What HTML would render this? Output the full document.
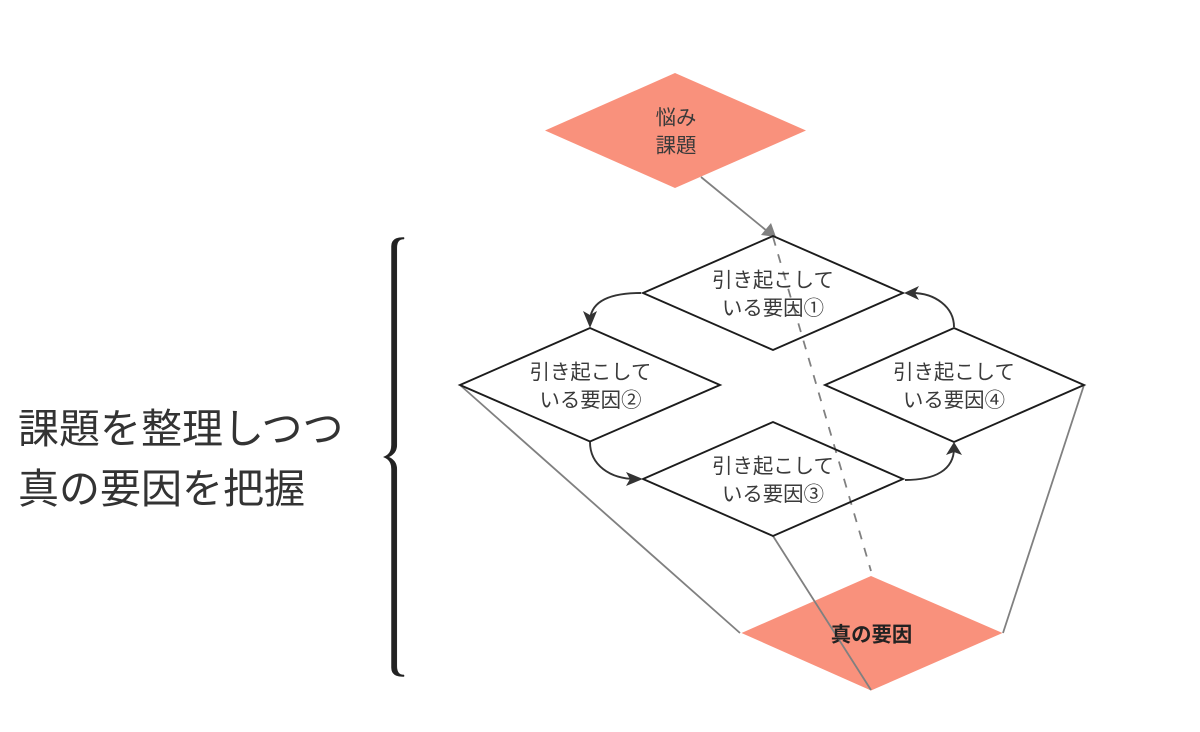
<!DOCTYPE html>
<html lang="ja">
<head>
<meta charset="utf-8">
<style>
html,body{margin:0;padding:0;background:#fff;}
svg{display:block;}
text{font-family:"Liberation Sans","Noto Sans CJK JP",sans-serif;fill:#3a3a3a;text-anchor:middle;font-size:20.4px;}
.big{font-size:41px;text-anchor:start;fill:#333;}
</style>
</head>
<body>
<svg width="1200" height="732" viewBox="0 0 1200 732" xmlns="http://www.w3.org/2000/svg">
<rect width="1200" height="732" fill="#fff"/>
<polygon points="545,130.5 675,73 806,130.5 675,188" fill="#f9917c"/>
<polygon points="741.5,633 871,576 1002.5,633 871,690.5" fill="#f9917c"/>

<g fill="none" stroke="#808080" stroke-width="1.8">
<line x1="701" y1="177" x2="770" y2="233.5"/>
<line x1="773" y1="237" x2="871" y2="571" stroke-dasharray="9 9"/>
<line x1="460" y1="385" x2="740" y2="633"/>
<line x1="773" y1="536" x2="871" y2="690"/>
<line x1="1084" y1="385" x2="1003" y2="633"/>
</g>
<polygon points="776,237 761,235 771,223" fill="#808080"/>

<g fill="none" stroke="#1c1c1c" stroke-width="1.9" stroke-linejoin="miter">
<polygon points="643,293 773,236 903,293 773,350"/>
<polygon points="460,385 590,328 720,385 590,441.5"/>
<polygon points="643,479 773,422 903,479 773,536"/>
<polygon points="825,385 954,328 1084,385 954,442"/>
</g>

<g fill="none" stroke="#333" stroke-width="1.9">
<path d="M641,293 C610,293 590,301 590,322"/>
<path d="M590,442 C590,465 610,479 636,479"/>
<path d="M905,480 C935,480 954,470 954,448"/>
<path d="M954,327 C954,307 935,293 912,293"/>
</g>
<g fill="#333">
<polygon points="590,328 583,311 590,315 597,311"/>
<polygon points="643,479 626,472 630,479 626,486"/>
<polygon points="954,442 946,455 954,452 962,455"/>
<polygon points="904,293 919,286 915,293 919,300"/>
</g>

<text x="773" y="287">引き起こして</text>
<text x="773" y="315">いる要因①</text>
<text x="590.5" y="379">引き起こして</text>
<text x="590.5" y="407">いる要因②</text>
<text x="773" y="473">引き起こして</text>
<text x="773" y="501">いる要因③</text>
<text x="954" y="379">引き起こして</text>
<text x="954" y="407">いる要因④</text>
<text x="676" y="124.5">悩み</text>
<text x="676" y="152.5">課題</text>
<text x="871.5" y="641.5" font-weight="700" style="fill:#222">真の要因</text>

<text class="big" x="18" y="443">課題を整理しつつ</text>
<text class="big" x="18" y="503">真の要因を把握</text>

<path d="M404,237.5 C395,237.5 391.5,240 391.5,247 L391.5,445 C391.5,451 389,455 383.5,457 C389,459 391.5,463 391.5,469 L391.5,667 C391.5,674 395,676.5 404,676.5 L404,675 C399,675 396.8,672 396.8,666 L396.8,469 C396.8,463 393.5,459 388.5,457 C393.5,455 396.8,451 396.8,445 L396.8,248 C396.8,242 399,239 404,239 Z" fill="#222" stroke="#222" stroke-width="0.5"/>
</svg>
</body>
</html>
